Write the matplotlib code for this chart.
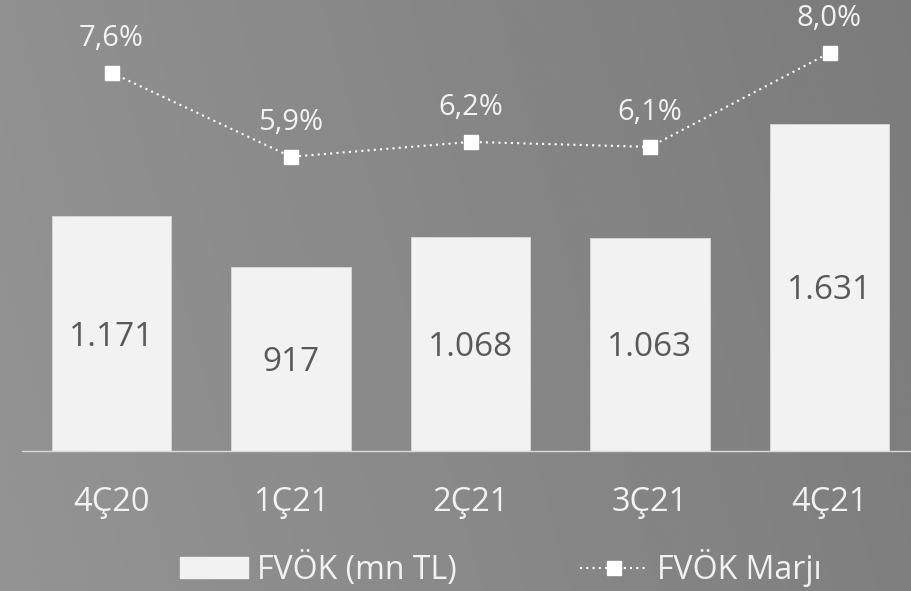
import numpy as np
import matplotlib
matplotlib.use("Agg")
import matplotlib.pyplot as plt
from matplotlib.patches import Patch
from matplotlib.lines import Line2D

plt.rcParams['font.family'] = ['Open Sans', 'DejaVu Sans']

quarters = ['4Ç20', '1Ç21', '2Ç21', '3Ç21', '4Ç21']
fvok = [1171, 917, 1068, 1063, 1631]
fvok_labels = ['1.171', '917', '1.068', '1.063', '1.631']
margin = [7.6, 5.9, 6.2, 6.1, 8.0]
margin_labels = ['7,6%', '5,9%', '6,2%', '6,1%', '8,0%']

fig = plt.figure(figsize=(9.12, 5.91), dpi=100)

# gray gradient background, lighter on the left
bg = fig.add_axes([0, 0, 1, 1], zorder=-10)
gx, gy = np.meshgrid(np.linspace(0, 1, 300), np.linspace(0, 1, 200))
grad = 0.578 - 0.095 * (0.85 * gx + 0.15 * (1 - gy))
bg.imshow(grad, cmap='gray', vmin=0, vmax=1, aspect='auto', extent=[0, 1, 0, 1])
bg.axis('off')

ax = fig.add_axes([21.75 / 912, 1 - 451 / 591, 897.5 / 912, 451 / 591])
ax.set_facecolor('none')
x = np.arange(len(quarters))
bars = ax.bar(x, fvok, width=0.665, color='#f2f2f2', edgecolor='#d9d9d9', linewidth=0.6, zorder=2)
ax.set_xlim(-0.5, 4.5)
ax.set_ylim(0, 2247)
for xi, v, lab in zip(x, fvok, fvok_labels):
    ax.annotate(lab, (xi, v / 2), xytext=(0, -8.7), textcoords='offset points',
                ha='center', va='baseline', fontsize=24, color='#595959', zorder=3)

for s in ['top', 'right', 'left']:
    ax.spines[s].set_visible(False)
ax.spines['bottom'].set_color('#d9d9d9')
ax.spines['bottom'].set_linewidth(1.0)
ax.set_yticks([])
ax.set_xticks(x)
ax.set_xticklabels(quarters, fontsize=23.5, color='#f2f2f2')
ax.tick_params(axis='x', length=0, pad=25)

ax2 = ax.twinx()
ax2.set_ylim(-0.05, 9.07)
ax2.axis('off')
ax2.plot(x, margin, color='white', linestyle=(0, (1, 2)), linewidth=1.5,
         marker='s', markersize=10, markerfacecolor='white', markeredgecolor='white')
for xi, v, lab in zip(x, margin, margin_labels):
    ax2.annotate(lab, (xi, v), xytext=(0, 19.5), textcoords='offset points',
                 ha='center', va='baseline', fontsize=21, color='#f2f2f2')

handles = [
    Patch(facecolor='#f2f2f2', edgecolor='#f2f2f2', label='FVÖK (mn TL)'),
    Line2D([0], [0], color='white', linestyle=(0, (1, 2)), linewidth=1.5,
           marker='s', markersize=10, markerfacecolor='white', markeredgecolor='white',
           label='FVÖK Marjı'),
]
leg = fig.legend(handles=handles, loc='center left', bbox_to_anchor=(180 / 912, 1 - 568 / 591),
                 ncol=2, frameon=False, fontsize=23, handlelength=2.13, handleheight=0.63,
                 handletextpad=0.28, columnspacing=3.85, borderpad=0, borderaxespad=0,
                 numpoints=1)
for t in leg.get_texts():
    t.set_color('#f2f2f2')

fig.savefig('out.png', dpi=100)
